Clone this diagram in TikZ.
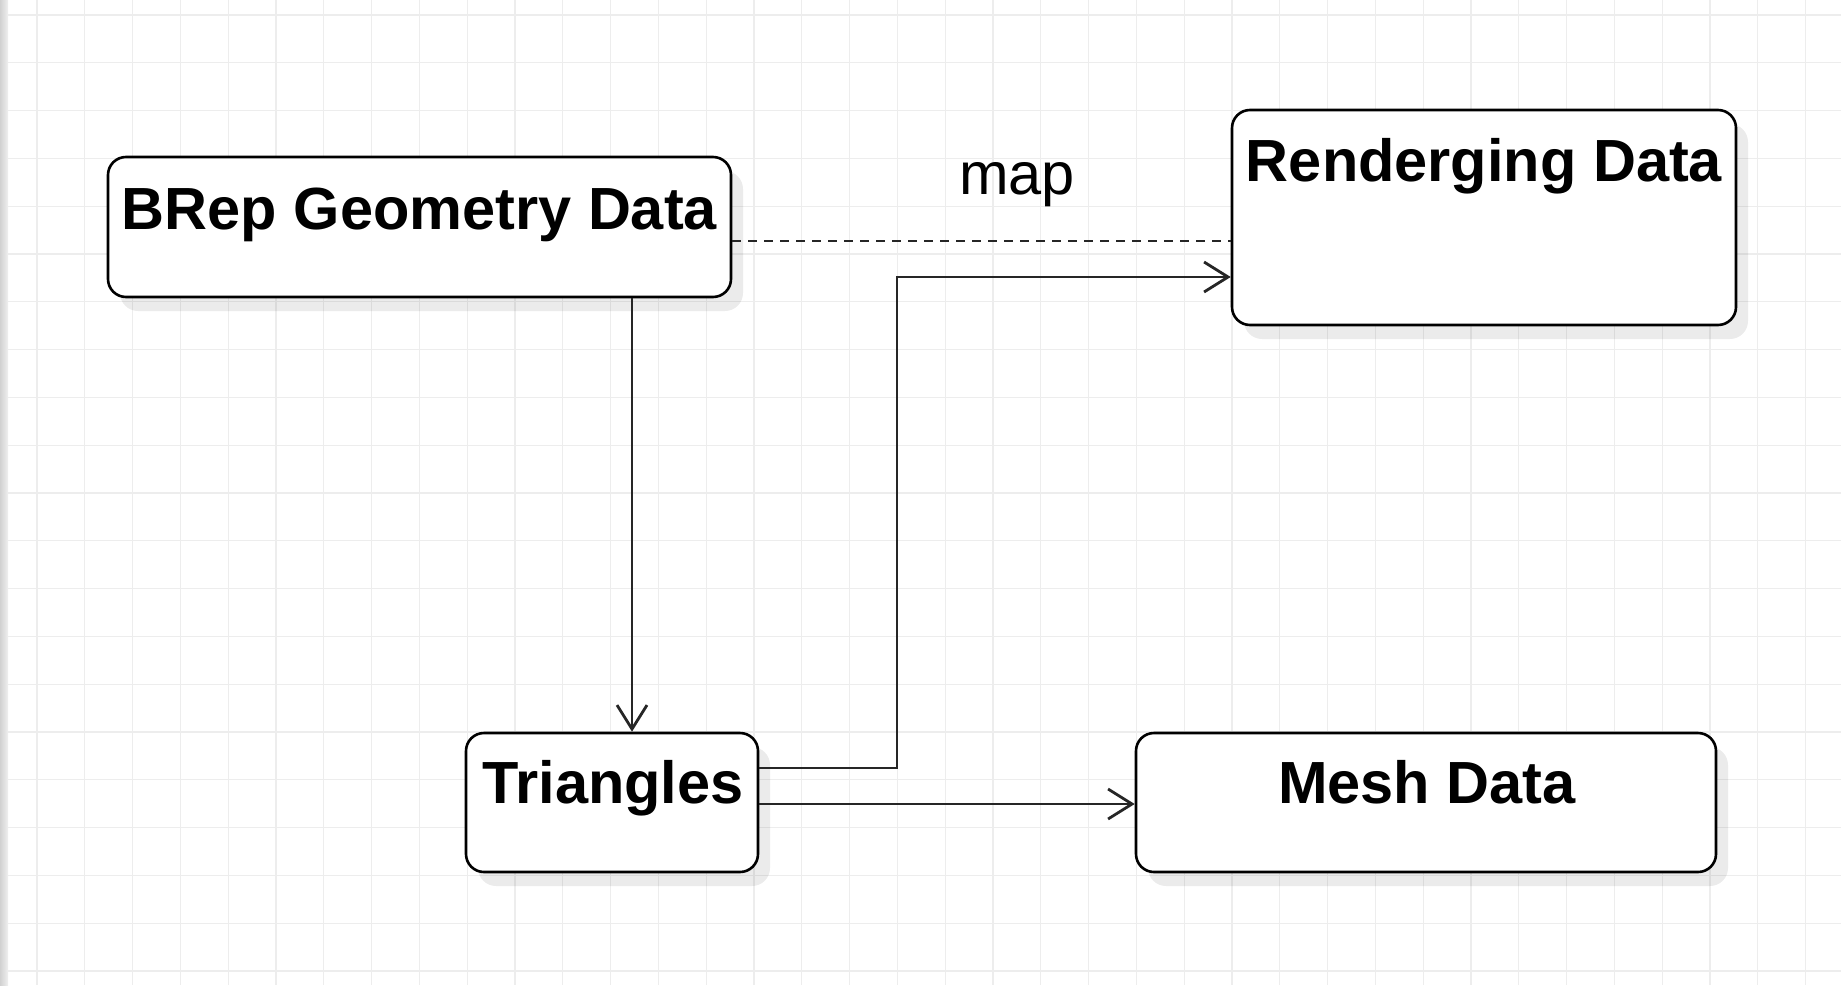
\documentclass[tikz,border=0pt]{standalone}
\usepackage{fontspec}
\setmainfont{Liberation Sans}
\usetikzlibrary{arrows.meta,shadows}
\begin{document}
\begin{tikzpicture}[x=1pt,y=-1pt,
  box/.style={draw=black, line width=2.6pt, rounded corners=18pt, fill=white, inner sep=0pt,
    drop shadow={shadow xshift=12pt, shadow yshift=-14pt, fill=black, opacity=0.08}},
  lbl/.style={anchor=base, inner sep=0pt, font=\fontsize{59.5}{70}\selectfont\bfseries},
  conn/.style={draw=black!85, line width=2.8pt},
  arr/.style={conn, -{Straight Barb[length=24pt,width=30pt]}},
  dashedline/.style={conn, dash pattern=on 9pt off 7pt}]
\useasboundingbox (0,0) rectangle (1841,985);
\fill[white] (0,0) rectangle (1841,985);
% grid
\foreach \i in {0,...,38} {
  \draw[black!7, line width=1.2pt] ({37+47.8*\i},0) -- ({37+47.8*\i},985);
}
\foreach \j in {0,...,20} {
  \draw[black!7, line width=1.2pt] (0,{15+47.8*\j}) -- (1841,{15+47.8*\j});
}
\shade[left color=black!18, right color=black!6] (0,0) rectangle (8,985);
% boxes
\node[box, minimum width=623pt, minimum height=140pt] (brep) at (419.5,227) {};
\node[box, minimum width=504pt, minimum height=215pt] (rend) at (1484,217.5) {};
\node[box, minimum width=292pt, minimum height=139pt] (tri) at (612,802.5) {};
\node[box, minimum width=580pt, minimum height=139pt] (mesh) at (1426,802.5) {};
% labels
\node[lbl] (brept) at (419.5,229) {BRep Geometry Data};
\node[lbl] (rendt) at (1484,181) {Renderging Data};
\node[lbl] (trit) at (613,803) {Triangles};
\node[lbl] (mesht) at (1427,803) {Mesh Data};
\node[anchor=base, inner sep=0pt, font=\fontsize{59.5}{70}\selectfont] (map) at (1017,194) {map};
% connectors
\draw[dashedline] ([yshift=-14pt]brep.east) -- ([yshift=-14pt]brep.east -| rend.west);
\draw[arr] ([xshift=212.5pt]brep.south) -- ([xshift=212.5pt]brep.south |- tri.north);
\coordinate (bend) at (897,277);
\draw[arr] ([yshift=34.5pt]tri.east) -| (bend) -- (bend -| rend.west);
\draw[arr] ([yshift=-1.5pt]tri.east) -- ([yshift=-1.5pt]tri.east -| mesh.west);
\end{tikzpicture}
\end{document}
